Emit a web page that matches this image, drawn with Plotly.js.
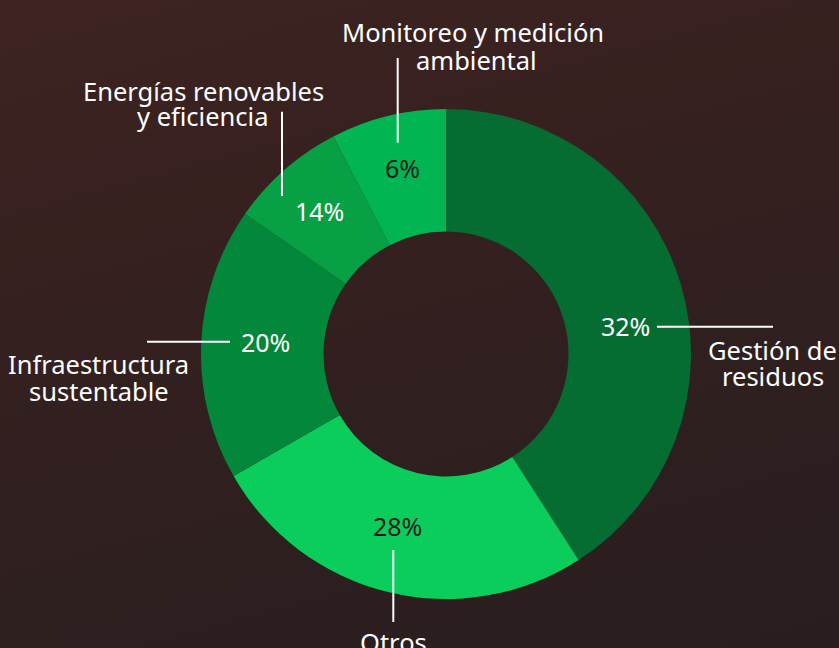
<!DOCTYPE html>
<html><head><meta charset="utf-8">
<script src="https://cdn.plot.ly/plotly-3.0.1.min.js"></script>
<style>
html,body{margin:0;padding:0;width:839px;height:648px;overflow:hidden;
background:linear-gradient(165deg,#3e2321 0%,#33201f 45%,#291e1f 100%);}
#chart{width:839px;height:648px;}
</style>
</head><body><div id="chart"></div>
<script>
// ---- data ----
const categories = ["Gestión de residuos", "Otros", "Infraestructura sustentable", "Energías renovables y eficiencia", "Monitoreo y medición ambiental"];
const labelLines = [["Gestión de", "residuos"], ["Otros"], ["Infraestructura", "sustentable"], ["Energías renovables", "y eficiencia"], ["Monitoreo y medición", "ambiental"]];
const sliceValues = [40.9, 25.8, 18.0, 7.7, 7.6];   // slice sizes as drawn
const pctLabels = ["32%", "28%", "20%", "14%", "6%"]; // printed labels

// ---- styles ----
const sliceColors = ["#056d31", "#0bcd5b", "#03873a", "#07a044", "#01b552"];
const pctColors = ["#ffffff", "#1e1e1e", "#ffffff", "#ffffff", "#1e1e1e"];
const FONT = "Noto Sans, Open Sans, sans-serif";

// ---- layout positions (pixels) ----
const W = 839, H = 648;
const px = x => x / W, py = y => 1 - y / H;
const pos = [
  {pct: [625, 326], lines: [[772, 349.7], [773, 376.4]], leader: [[657, 326.7], [773, 326.7]]},
  {pct: [397, 526], lines: [[393, 642]], leader: [[393.3, 550], [393.3, 622]]},
  {pct: [265, 341.7], lines: [[98, 364.1], [99, 391.4]], leader: [[147, 341.7], [230, 341.7]]},
  {pct: [319, 211], lines: [[203, 90.7], [202, 116.4]], leader: [[282, 111.7], [282, 196]]},
  {pct: [402, 168], lines: [[473, 32.5], [476, 59.7]], leader: [[397.7, 58], [397.7, 142.7]]}
];

const annotations = [];
const shapes = [];
categories.forEach((c, i) => {
  const p = pos[i];
  annotations.push({xref: "paper", yref: "paper", x: px(p.pct[0]), y: py(p.pct[1]),
    xanchor: "center", yanchor: "middle", showarrow: false, text: pctLabels[i],
    font: {family: FONT, size: 25, color: pctColors[i]}});
  labelLines[i].forEach((t, j) => {
    annotations.push({xref: "paper", yref: "paper", x: px(p.lines[j][0]), y: py(p.lines[j][1]),
      xanchor: "center", yanchor: "middle", showarrow: false, text: t,
      font: {family: FONT, size: 25.5, color: "#ffffff"}});
  });
  shapes.push({type: "line", xref: "paper", yref: "paper",
    x0: px(p.leader[0][0]), y0: py(p.leader[0][1]), x1: px(p.leader[1][0]), y1: py(p.leader[1][1]),
    line: {color: "#ffffff", width: 2}});
});

const trace = {
  type: "pie",
  labels: categories,
  values: sliceValues,
  text: pctLabels,
  textinfo: "none",
  hole: 0.5,
  sort: false,
  direction: "clockwise",
  rotation: 0,
  marker: {colors: sliceColors, line: {width: 0}},
  domain: {x: [201 / W, 691 / W], y: [1 - 599 / H, 1 - 109 / H]},
  hoverinfo: "none"
};

Plotly.newPlot("chart", [trace], {
  width: W, height: H,
  margin: {l: 0, r: 0, t: 0, b: 0},
  paper_bgcolor: "rgba(0,0,0,0)",
  plot_bgcolor: "rgba(0,0,0,0)",
  showlegend: false,
  annotations: annotations,
  shapes: shapes
}, {displayModeBar: false, staticPlot: true});
</script>
</body></html>
